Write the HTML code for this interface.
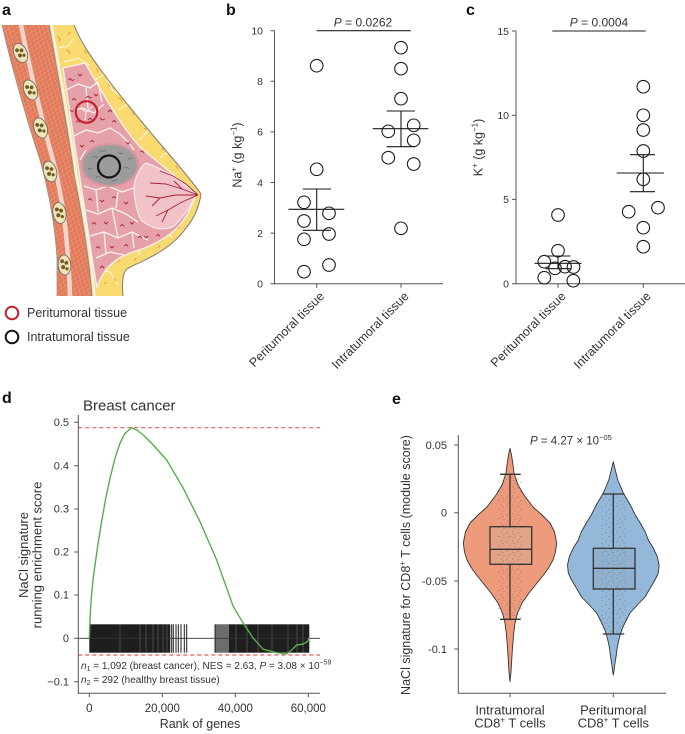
<!DOCTYPE html>
<html><head><meta charset="utf-8"><style>
html,body{margin:0;padding:0;background:#fff;}
svg{display:block;font-family:"Liberation Sans",Arial,sans-serif;}
</style></head><body>
<svg width="685" height="734" viewBox="0 0 685 734" xmlns="http://www.w3.org/2000/svg">
<defs>
<pattern id="musc" width="5" height="7" patternUnits="userSpaceOnUse" patternTransform="rotate(18)">
<rect width="5" height="7" fill="#E27A5A"/>
<path d="M0,0 L5,7 M5,0 L0,7" stroke="#EFA186" stroke-width="0.5"/>
</pattern>
<pattern id="dots" width="11" height="9" patternUnits="userSpaceOnUse">
<circle cx="1" cy="2" r="0.55" fill="#555"/>
<circle cx="6.5" cy="1" r="0.5" fill="#666"/>
<circle cx="4" cy="5.5" r="0.55" fill="#555"/>
<circle cx="9" cy="6.5" r="0.5" fill="#666"/>
<circle cx="2" cy="8" r="0.45" fill="#777"/>
<circle cx="8" cy="3.5" r="0.45" fill="#555"/>
</pattern>
</defs>
<rect width="685" height="734" fill="#fff"/>

<!-- Panel labels -->
<g font-size="16" font-weight="bold" fill="#111">
<text x="2" y="15">a</text>
<text x="226" y="15">b</text>
<text x="466" y="15">c</text>
<text x="2" y="403">d</text>
<text x="392" y="404">e</text>
</g>

<!-- ================= Panel a ================= -->
<g>
<path d="M49,25 L74,25 C 82,45 95,62 103,73 C 118,93 140,120 157,140 C 172,158 190,178 201,194 C 199,208 193,220 186,228 C 178,240 165,250 147,259 C 138,264 130,266 126,270 C 122,275 122,285 123,296 L 92,296 C 89,260 82,215 74,175 C 68,130 58,75 49,25 Z" fill="#F8DA70"/>
<g stroke="#FDF3D0" stroke-width="1.2" fill="none">
<path d="M58,48 L68,46 L74,38"/>
<path d="M64,62 L78,58 L90,66"/>
<path d="M95,80 L105,74 L112,90 L125,98"/>
<path d="M118,110 L128,104 L140,118"/>
<path d="M140,140 L150,128"/>
<path d="M160,158 L170,150"/>
<path d="M172,238 L165,230"/>
<path d="M140,255 L137,247"/>
<path d="M100,270 L110,272 L118,285"/>
</g>
<g stroke="#E8923A" stroke-width="0.8" fill="none">
<path d="M58,36 l2,3 l-1,3"/><path d="M66,50 l3,1 l1,3"/><path d="M70,32 l-2,3"/>
<path d="M84,50 l2,3 l2,-1"/><path d="M96,68 l2,2 l-1,3"/><path d="M108,84 l2,3"/>
<path d="M118,98 l3,1 l1,3"/><path d="M132,112 l2,3"/><path d="M144,128 l3,2"/>
<path d="M162,148 l2,3"/><path d="M176,166 l2,3"/><path d="M188,204 l-2,3"/>
<path d="M180,226 l-2,3"/><path d="M158,248 l2,-3"/><path d="M136,258 l-2,3"/>
<path d="M114,278 l2,3"/><path d="M104,284 l3,-2"/><path d="M118,262 l2,-2"/>
<path d="M90,268 l1,3"/><path d="M86,240 l2,2"/>
</g>
<path d="M63,68 L85,63 C 95,80 105,98 113,110 C 122,125 132,138 140,147 C 155,160 178,178 196,194 C 192,206 186,218 179,226 C 168,238 150,247 133,252 C 118,257 104,266 97,287 C 91,255 86,215 81,185 C 75,145 69,105 63,68 Z" fill="#E6A1A8" stroke="#F6F0EE" stroke-width="1.3"/>
<g stroke="#F7F2F2" stroke-width="1.3" fill="none">
<path d="M66,90 L78,84 L90,88 L98,82"/>
<path d="M70,112 L82,108 L94,113 L104,104"/>
<path d="M74,136 L86,130 L98,133 L110,128 L120,134"/>
<path d="M86,88 L88,108"/>
<path d="M98,82 L102,102"/>
<path d="M80,160 L86,150"/>
<path d="M120,134 L128,142 L134,150"/>
<path d="M84,186 L96,190 L108,186 L122,192 L134,188"/>
<path d="M86,210 L98,214 L112,208 L126,214 L138,222"/>
<path d="M90,236 L104,232 L118,238 L132,232 L148,240"/>
<path d="M96,258 L110,252 L124,255"/>
<path d="M96,190 L98,212"/>
<path d="M118,192 L116,208"/>
<path d="M104,232 L106,254"/>
<path d="M132,232 L134,248"/>
<path d="M112,208 L118,238"/>
</g>
<g stroke="#A3233F" stroke-width="0.9" fill="none">
<path d="M68,80 l2.5,-1.5 l1.5,2 l2.5,-1"/><path d="M78,74 l2,2 l2,-2"/>
<path d="M72,100 l2.5,-1.5 l1.5,2"/><path d="M86,98 l2,-2 l2,2 l2,-1"/>
<path d="M94,94 l2,2 l2,-2"/><path d="M76,122 l2.5,-1.5 l1.5,2"/>
<path d="M100,118 l2,2 l3,-1"/><path d="M108,112 l2,-2 l2,2"/>
<path d="M112,122 l2.5,-1.5 l1.5,2"/><path d="M80,145 l2,2 l2,-2"/>
<path d="M90,142 l2.5,-1.5 l1.5,2"/><path d="M126,142 l2,2 l2,-2"/>
<path d="M140,152 l2.5,-1 l1.5,2"/><path d="M84,175 l2,2 l2,-2"/>
<path d="M88,200 l2.5,-1.5 l1.5,2"/><path d="M100,200 l2,2 l2,-2"/>
<path d="M112,198 l2.5,-1.5 l1.5,2"/><path d="M124,202 l2,2 l2,-2"/>
<path d="M92,224 l2.5,-1.5 l1.5,2"/><path d="M104,222 l2,2 l2,-2"/>
<path d="M120,226 l2.5,-1.5 l1.5,2"/><path d="M130,222 l2,2 l2,-2"/>
<path d="M96,248 l2.5,-1.5 l1.5,2"/><path d="M110,246 l2,2 l2,-2"/>
<path d="M124,246 l2.5,-1.5 l1.5,2"/><path d="M144,236 l2,2 l2,-2"/>
<path d="M100,268 l2,-2 l2,2"/><path d="M156,236 l2.5,-1.5 l1.5,2"/>
<path d="M82,160 l2,-2 l2,2"/><path d="M70,110 l2,2 l2,-2"/>
<path d="M88,120 l2,-2 l2,2"/><path d="M138,238 l2,-2 l2,2"/>
</g>
<path d="M134,186 C 136,174 141,166 146,163 C 162,168 180,180 196,194 C 192,205 184,216 174,226 C 163,232 150,228 141,220 C 136,210 134,198 134,186 Z" fill="#F1C2C7" stroke="#F8F0F0" stroke-width="1"/>
<g stroke="#A3223F" stroke-width="0.9" fill="none">
<path d="M198,195 L182,189 L166,184 L150,183"/>
<path d="M198,195 L176,195 L160,198 L146,196"/>
<path d="M198,195 L182,202 L168,210 L156,216"/>
<path d="M198,195 L186,184 L173,176 L160,171"/>
<path d="M182,189 L174,181"/>
<path d="M168,210 L162,222"/>
<path d="M160,198 L152,206"/>
</g>
<ellipse cx="110" cy="165" rx="29.5" ry="22" fill="#D9959E"/>
<ellipse cx="110" cy="165" rx="27" ry="20" fill="#9C9C9C"/>
<g stroke="#6E6E6E" stroke-width="0.8" fill="none">
<path d="M92,158 q3,-3 6,0"/><path d="M100,150 q3,3 6,0"/><path d="M118,152 q2,3 5,1"/>
<path d="M124,168 q3,-2 5,1"/><path d="M96,178 q2,-3 5,0"/><path d="M112,180 q3,2 5,-1"/>
<path d="M88,168 q2,2 4,0"/><path d="M128,158 q2,2 4,0"/>
</g>
<circle cx="109" cy="166.5" r="11" fill="none" stroke="#141414" stroke-width="2.2"/>
<circle cx="86.5" cy="112" r="10.8" fill="none" stroke="#C4202F" stroke-width="2.2"/>
<path d="M80,108 L86,112 L93,106 M86,112 L85,120" stroke="#F7F2F2" stroke-width="1" fill="none"/>
<path d="M2,25 C 10,60 25,115 40,160 C 50,195 56,235 57,260 L 57,296 L 92,296 C 89,260 82,215 74,175 C 68,130 58,75 49,25 Z" fill="url(#musc)"/>
<path d="M21,25 C 30,70 42,120 53,160 C 62,195 68,235 70,296" stroke="#F3D5CA" stroke-width="4.5" fill="none"/>
<path d="M49,25 C 58,75 68,130 74,175 C 82,215 89,260 92,296" stroke="#8A8A8A" stroke-width="0.9" fill="none"/>
<path d="M51.5,25 C 60.5,75 70.5,130 76.5,175 C 84.5,215 91.5,260 94.5,296" stroke="#F3F0EE" stroke-width="2.5" fill="none"/>
<path d="M2,25 C 10,60 25,115 40,160 C 50,195 56,235 57,260 L 57,296" stroke="#9A8A86" stroke-width="0.7" fill="none"/>
<path d="M74,25 C 82,45 95,62 103,73 C 118,93 140,120 157,140 C 172,158 190,178 201,194 C 199,208 193,220 186,228 C 178,240 165,250 147,259 C 138,264 130,266 126,270 C 122,275 122,285 123,296" stroke="#7A7A7A" stroke-width="1" fill="none"/>
<g stroke="#666" stroke-width="0.8">
<g transform="translate(20.5,53) rotate(-25)"><ellipse rx="6.5" ry="10" fill="#EEE4BA"/><circle cx="-2" cy="-4" r="1.9" fill="#6E5B22" stroke="none"/><circle cx="2" cy="-2" r="1.9" fill="#6E5B22" stroke="none"/><circle cx="-1.5" cy="2" r="2" fill="#6E5B22" stroke="none"/><circle cx="2.2" cy="3.5" r="1.6" fill="#6E5B22" stroke="none"/></g>
<g transform="translate(30.5,90) rotate(-22)"><ellipse rx="6.5" ry="10.5" fill="#EEE4BA"/><circle cx="-2" cy="-4" r="1.9" fill="#6E5B22" stroke="none"/><circle cx="2" cy="-2" r="1.9" fill="#6E5B22" stroke="none"/><circle cx="-1.5" cy="2" r="2" fill="#6E5B22" stroke="none"/><circle cx="2.2" cy="4" r="1.6" fill="#6E5B22" stroke="none"/></g>
<g transform="translate(40.5,128) rotate(-20)"><ellipse rx="6.5" ry="10.5" fill="#EEE4BA"/><circle cx="-2" cy="-4" r="1.9" fill="#6E5B22" stroke="none"/><circle cx="2" cy="-2" r="1.9" fill="#6E5B22" stroke="none"/><circle cx="-1.5" cy="2" r="2" fill="#6E5B22" stroke="none"/><circle cx="2.2" cy="4" r="1.6" fill="#6E5B22" stroke="none"/></g>
<g transform="translate(50,171.5) rotate(-15)"><ellipse rx="6.5" ry="10.5" fill="#EEE4BA"/><circle cx="-2" cy="-4" r="1.9" fill="#6E5B22" stroke="none"/><circle cx="2" cy="-2" r="1.9" fill="#6E5B22" stroke="none"/><circle cx="-1.5" cy="2" r="2" fill="#6E5B22" stroke="none"/><circle cx="2.2" cy="4" r="1.6" fill="#6E5B22" stroke="none"/></g>
<g transform="translate(59.5,213) rotate(-10)"><ellipse rx="6.5" ry="10.5" fill="#EEE4BA"/><circle cx="-2" cy="-4" r="1.9" fill="#6E5B22" stroke="none"/><circle cx="2" cy="-2" r="1.9" fill="#6E5B22" stroke="none"/><circle cx="-1.5" cy="2" r="2" fill="#6E5B22" stroke="none"/><circle cx="2.2" cy="4" r="1.6" fill="#6E5B22" stroke="none"/></g>
<g transform="translate(64.5,265) rotate(-5)"><ellipse rx="6.3" ry="10" fill="#EEE4BA"/><circle cx="-2" cy="-4" r="1.9" fill="#6E5B22" stroke="none"/><circle cx="2" cy="-2" r="1.9" fill="#6E5B22" stroke="none"/><circle cx="-1.5" cy="2" r="2" fill="#6E5B22" stroke="none"/><circle cx="2.2" cy="4" r="1.6" fill="#6E5B22" stroke="none"/></g>
</g>
<circle cx="12" cy="313" r="6.3" fill="none" stroke="#C4202F" stroke-width="2"/>
<circle cx="12" cy="337" r="6.3" fill="none" stroke="#141414" stroke-width="2"/>
<text x="27" y="317" font-size="12.5" fill="#333">Peritumoral tissue</text>
<text x="27" y="341" font-size="12.5" fill="#333">Intratumoral tissue</text>
</g>

<!-- ================= Panel b ================= -->
<g stroke="#555" stroke-width="1" fill="none">
<path d="M274.5,30.7 V283.7 H443"/>
<path d="M270.5,283.7 H274.5 M270.5,233.1 H274.5 M270.5,182.5 H274.5 M270.5,131.9 H274.5 M270.5,81.3 H274.5 M270.5,30.7 H274.5"/>
<path d="M316.7,283.7 V287.7 M401,283.7 V287.7"/>
</g>
<g font-size="10.5" fill="#333" text-anchor="end">
<text x="263" y="287.5">0</text><text x="263" y="236.9">2</text><text x="263" y="186.3">4</text>
<text x="263" y="135.7">6</text><text x="263" y="85.1">8</text><text x="263" y="34.5">10</text>
</g>
<path d="M316.7,30.7 H410.7" stroke="#222" stroke-width="1.1"/>
<text x="363" y="26.5" font-size="12" fill="#333" text-anchor="middle"><tspan font-style="italic">P</tspan> = 0.0262</text>
<text transform="translate(241.5,155) rotate(-90)" font-size="12.5" fill="#333" text-anchor="middle">Na<tspan font-size="8" dy="-5">+</tspan><tspan dy="5"> (g kg</tspan><tspan font-size="8" dy="-5">−1</tspan><tspan dy="5">)</tspan></text>
<text transform="translate(325,297) rotate(-45)" font-size="12.5" fill="#333" text-anchor="end">Peritumoral tissue</text>
<text transform="translate(409.5,297) rotate(-45)" font-size="12.5" fill="#333" text-anchor="end">Intratumoral tissue</text>
<g stroke="#1a1a1a" stroke-width="1.1" fill="none">
<circle cx="316.7" cy="65.7" r="6.3"/><circle cx="316.7" cy="169.3" r="6.3"/>
<circle cx="304" cy="202.3" r="6.3"/><circle cx="304" cy="221" r="6.3"/>
<circle cx="329" cy="213.3" r="6.3"/><circle cx="329" cy="234" r="6.3"/>
<circle cx="304" cy="239.3" r="6.3"/><circle cx="329" cy="265" r="6.3"/>
<circle cx="304" cy="271.7" r="6.3"/>
<path d="M288.5,209.3 H344.3 M316.7,189 V230.3 M302.7,189 H331 M302.7,230.3 H331"/>
<circle cx="401" cy="47.7" r="6.3"/><circle cx="401" cy="68.7" r="6.3"/>
<circle cx="401" cy="98.7" r="6.3"/><circle cx="388.3" cy="131.3" r="6.3"/>
<circle cx="413.7" cy="125.3" r="6.3"/><circle cx="413.7" cy="140.3" r="6.3"/>
<circle cx="388.3" cy="157.7" r="6.3"/><circle cx="413.7" cy="164" r="6.3"/>
<circle cx="401" cy="228.3" r="6.3"/>
<path d="M372.7,128.7 H428.3 M401,111 V146.7 M386.7,111 H415 M386.7,146.7 H415"/>
</g>

<!-- ================= Panel c ================= -->
<g stroke="#555" stroke-width="1" fill="none">
<path d="M516,31 V283.7 H685"/>
<path d="M512,283.7 H516 M512,199.4 H516 M512,115.3 H516 M512,31 H516"/>
<path d="M558,283.7 V287.7 M643.3,283.7 V287.7"/>
</g>
<g font-size="10.5" fill="#333" text-anchor="end">
<text x="509" y="287.5">0</text><text x="509" y="203.2">5</text>
<text x="509" y="119.1">10</text><text x="509" y="34.8">15</text>
</g>
<path d="M552.3,31 H645.7" stroke="#222" stroke-width="1.1"/>
<text x="599" y="26.5" font-size="12" fill="#333" text-anchor="middle"><tspan font-style="italic">P</tspan> = 0.0004</text>
<text transform="translate(482.5,147.5) rotate(-90)" font-size="12.5" fill="#333" text-anchor="middle">K<tspan font-size="8" dy="-5">+</tspan><tspan dy="5"> (g kg</tspan><tspan font-size="8" dy="-5">−1</tspan><tspan dy="5">)</tspan></text>
<text transform="translate(566.5,297) rotate(-45)" font-size="12.5" fill="#333" text-anchor="end">Peritumoral tissue</text>
<text transform="translate(651.5,297) rotate(-45)" font-size="12.5" fill="#333" text-anchor="end">Intratumoral tissue</text>
<g stroke="#1a1a1a" stroke-width="1.1" fill="none">
<circle cx="558" cy="215" r="6.3"/><circle cx="558" cy="250.7" r="6.3"/>
<circle cx="544.3" cy="261.7" r="6.3"/><circle cx="555" cy="268.3" r="6.3"/>
<circle cx="565" cy="266.7" r="6.3"/><circle cx="573.5" cy="267" r="6.3"/>
<circle cx="544.3" cy="277.7" r="6.3"/><circle cx="573.3" cy="280.7" r="6.3"/>
<path d="M534.5,263.3 H581.5 M558,256 V268.7 M545.5,256 H570.5 M545.5,268.7 H570.5"/>
<circle cx="643.3" cy="86.7" r="6.3"/><circle cx="643.3" cy="115.3" r="6.3"/>
<circle cx="643.3" cy="130" r="6.3"/><circle cx="643.3" cy="151" r="6.3"/>
<circle cx="643.3" cy="179.3" r="6.3"/><circle cx="658" cy="207.7" r="6.3"/>
<circle cx="628.7" cy="211.7" r="6.3"/><circle cx="643.3" cy="227.7" r="6.3"/>
<circle cx="643.3" cy="246.7" r="6.3"/>
<path d="M616.7,173 H664 M643.3,154.7 V191.7 M630,154.7 H655 M630,191.7 H655"/>
</g>

<!-- ================= Panel d ================= -->
<text x="83" y="410.7" font-size="15" fill="#333">Breast cancer</text>
<rect x="89.3" y="624.3" width="81" height="28.4" fill="#1e1e1e"/>
<g stroke="#1e1e1e">
<path d="M171.7,624.3 V652.7 M173.3,624.3 V652.7 M176,624.3 V652.7 M178.3,624.3 V652.7 M181,624.3 V652.7 M184.3,624.3 V652.7 M186.7,624.3 V652.7" stroke-width="1"/>
<path d="M215.2,624.3 V652.7 M217,624.3 V652.7 M219,624.3 V652.7 M221,624.3 V652.7 M223,624.3 V652.7 M225,624.3 V652.7 M227,624.3 V652.7 M229,624.3 V652.7" stroke-width="1.3"/>
</g>
<rect x="229.5" y="624.3" width="79.8" height="28.4" fill="#1e1e1e"/>
<g stroke="#777" stroke-width="0.5">
<path d="M236,624.3 V652.7 M247,624.3 V652.7 M258,624.3 V652.7 M272,624.3 V652.7 M288,624.3 V652.7 M297,624.3 V652.7 M303,624.3 V652.7 M120,624.3 V652.7 M140,624.3 V652.7 M146,624.3 V652.7 M153,624.3 V652.7 M158,624.3 V652.7 M163,624.3 V652.7 M167,624.3 V652.7"/>
</g>
<path d="M78.3,638.3 H320" stroke="#333" stroke-width="0.9"/>
<g stroke="#E85A62" stroke-width="1.2" stroke-dasharray="4,3" fill="none">
<path d="M78.3,427.7 H320"/><path d="M78.3,655 H320"/>
</g>
<polyline fill="none" stroke="#55B04A" stroke-width="1.4" stroke-linejoin="round" points="89.3,638.3 89.8,625 90.5,610 91.5,595 93,580 95,565 98.3,542 101.7,521 106,497 110,478.3 115,458.3 120,443.3 125,433.3 131.7,427.7 136.7,430 143.3,435 153.3,445 166.7,460 183.3,488.3 200,521.7 216.7,560 233.3,606.7 243.3,623.3 253.3,638.3 263.3,649.3 276.7,652.7 286.7,654 291.7,650 296.7,645 303.3,644 307.3,641.7 309.3,637.7"/>
<g stroke="#555" stroke-width="1" fill="none">
<path d="M78.3,415 V693.3 H320"/>
<path d="M74.3,422.3 H78.3 M74.3,465.7 H78.3 M74.3,509 H78.3 M74.3,552 H78.3 M74.3,595 H78.3 M74.3,638.3 H78.3 M74.3,681.7 H78.3"/>
<path d="M89.3,693.3 V697.3 M162.3,693.3 V697.3 M235.3,693.3 V697.3 M308.3,693.3 V697.3"/>
</g>
<g font-size="11" fill="#333" text-anchor="end">
<text x="69" y="426">0.5</text><text x="69" y="469.4">0.4</text><text x="69" y="512.7">0.3</text>
<text x="69" y="555.7">0.2</text><text x="69" y="598.7">0.1</text><text x="69" y="642">0</text>
<text x="69" y="685.4">−0.1</text>
</g>
<g font-size="11.5" fill="#333" text-anchor="middle">
<text x="89.3" y="712">0</text><text x="162.3" y="712">20,000</text>
<text x="235.3" y="712">40,000</text><text x="308.3" y="712">60,000</text>
</g>
<text x="200" y="728" font-size="12.5" fill="#333" text-anchor="middle">Rank of genes</text>
<text transform="translate(28,555) rotate(-90)" font-size="13" fill="#333" text-anchor="middle">NaCl signature</text>
<text transform="translate(41.5,555) rotate(-90)" font-size="13" fill="#333" text-anchor="middle">running enrichment score</text>
<text x="81" y="669" font-size="10" fill="#333"><tspan font-style="italic">n</tspan><tspan font-size="7" dy="2">1</tspan><tspan dy="-2"> = 1,092 (breast cancer), NES = 2.63, </tspan><tspan font-style="italic">P</tspan> = 3.08 × 10<tspan font-size="7" dy="-4.5">−59</tspan></text>
<text x="81" y="683" font-size="10" fill="#333"><tspan font-style="italic">n</tspan><tspan font-size="7" dy="2">2</tspan><tspan dy="-2"> = 292 (healthy breast tissue)</tspan></text>

<!-- ================= Panel e ================= -->
<path d="M510,448.3 L511.5,455 L513,465 L514,473 L518,485 L524,495 L533,507 L542,515 L550,523 L554.5,532 L556.7,543 L555.5,552 L553,560 L548.5,568 L543.5,575 L537,583 L529,593 L522,603 L517.5,613 L515,623 L513.5,635 L512.5,648 L511.7,660 L511,672 L510,681.7 L509,672 L508.3,660 L507.5,648 L506.5,635 L505,623 L502.5,613 L498,603 L491,593 L483,583 L476.5,575 L471.5,568 L467,560 L464.5,552 L463.3,543 L465.5,532 L470,523 L478,515 L487,507 L496,495 L502,485 L506,473 L507,465 L508.5,455 Z" fill="#EE9B7B" stroke="#333" stroke-width="0.9" stroke-linejoin="round"/>
<path d="M613.3,461.7 L615.3,470 L617.8,480 L623.3,493 L630.3,505 L635.3,515 L640.3,523 L645.3,532 L648.3,540 L653.3,548 L657.3,556.7 L659.1,565 L658.3,573 L655,580 L650.3,588 L645,597 L637.3,605 L630,613 L625.3,622 L621.6,630 L618.8,640 L617.3,647 L616.3,655 L615,663 L614.1,670 L613.3,675 L612.5,670 L611.6,663 L610.3,655 L609.3,647 L607.8,640 L605,630 L601.3,622 L596.6,613 L589.3,605 L581.6,597 L576.3,588 L571.6,580 L568.3,573 L567.5,565 L569.3,556.7 L573.3,548 L578.3,540 L581.3,532 L586.3,523 L591.3,515 L596.3,505 L603.3,493 L608.8,480 L611.3,470 Z" fill="#94B8DA" stroke="#333" stroke-width="0.9" stroke-linejoin="round"/>
<rect x="490" y="526.7" width="41.7" height="37.6" fill="#E3A386" stroke="#333" stroke-width="1.3"/>
<rect x="593.3" y="548.3" width="41.7" height="40.7" fill="#8FB0CE" stroke="#333" stroke-width="1.3"/>
<rect x="498" y="478" width="24" height="140" fill="url(#dots)" opacity="0.75"/>
<rect x="601" y="497" width="25" height="136" fill="url(#dots)" opacity="0.75"/>
<g stroke="#333" stroke-width="1.3" fill="none">
<path d="M490,549.3 H531.7 M510,474.3 V526.7 M510,564.3 V619.3 M500,474.3 H520.7 M500,619.3 H520.7"/>
<path d="M593.3,568.3 H635 M613.3,494 V548.3 M613.3,589 V634 M602.7,494 H624.3 M602.7,634 H624.3"/>
</g>
<g stroke="#555" stroke-width="1" fill="none">
<path d="M458.3,435 V693.3 H666"/>
<path d="M454.3,445 H458.3 M454.3,512.7 H458.3 M454.3,581 H458.3 M454.3,649 H458.3"/>
<path d="M510,693.3 V697.3 M613.3,693.3 V697.3"/>
</g>
<g font-size="11" fill="#333" text-anchor="end">
<text x="447" y="448.8">0.05</text><text x="447" y="516.5">0</text>
<text x="447" y="584.8">-0.05</text><text x="447" y="652.8">-0.1</text>
</g>
<text x="530" y="444.5" font-size="11.5" fill="#333"><tspan font-style="italic">P</tspan> = 4.27 × 10<tspan font-size="7.5" dy="-4.5">−05</tspan></text>
<g font-size="13" fill="#333" text-anchor="middle">
<text x="510" y="714.5">Intratumoral</text>
<text x="510" y="727.5">CD8<tspan font-size="8" dy="-5">+</tspan><tspan dy="5"> T cells</tspan></text>
<text x="613.3" y="714.5">Peritumoral</text>
<text x="613.3" y="727.5">CD8<tspan font-size="8" dy="-5">+</tspan><tspan dy="5"> T cells</tspan></text>
</g>
<text transform="translate(410,565) rotate(-90)" font-size="12.5" fill="#333" text-anchor="middle">NaCl signature for CD8<tspan font-size="8" dy="-5">+</tspan><tspan dy="5"> T cells  (module score)</tspan></text>
</svg>
</body></html>
